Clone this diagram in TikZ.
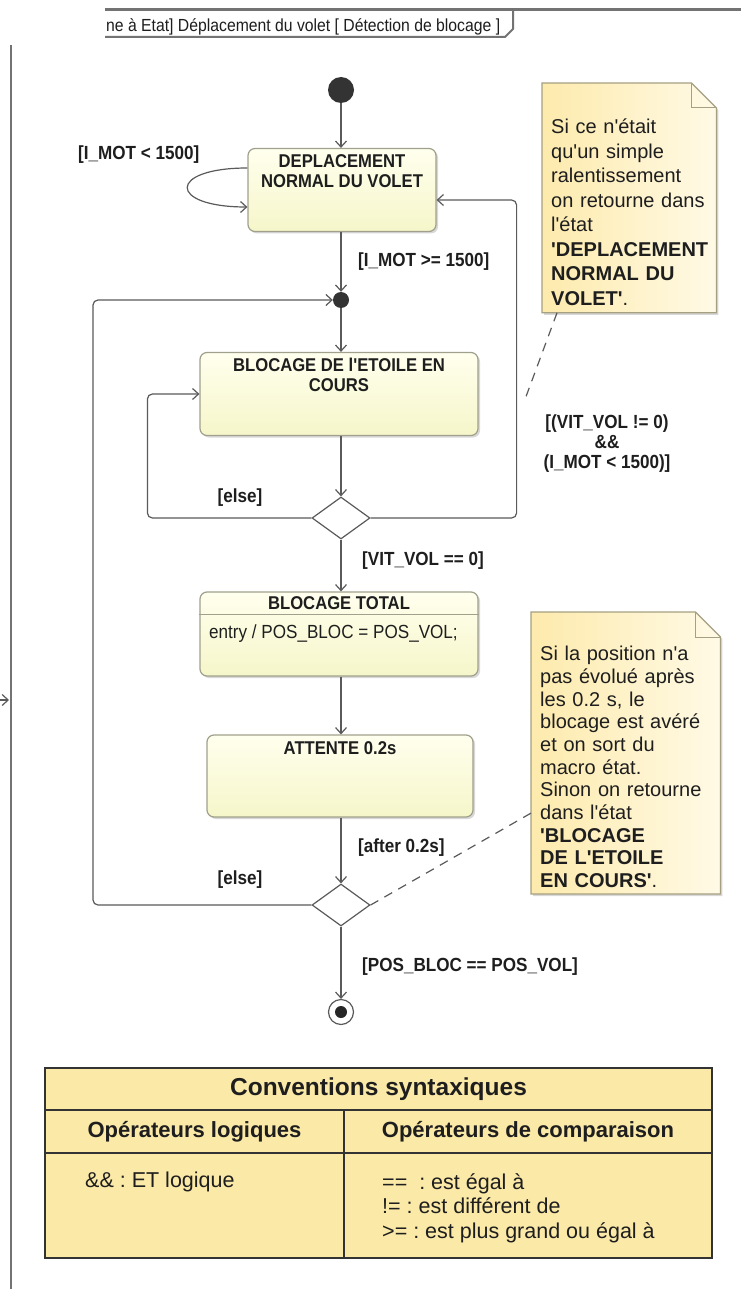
\documentclass[tikz,border=0pt]{standalone}
\usepackage{fontspec}
\setmainfont{Liberation Sans}[Ligatures=TeXOff]
\newfontfamily\narrowfont[FakeStretch=0.9, Ligatures=TeXOff]{Liberation Sans}
\usepackage{xcolor}
\usetikzlibrary{shapes.geometric, arrows.meta, positioning, calc, backgrounds, shadows}

\definecolor{stateedge}{RGB}{160,160,140}
\definecolor{statetop}{RGB}{255,255,238}
\definecolor{statebot}{RGB}{246,246,202}
\definecolor{noteleft}{RGB}{253,234,172}
\definecolor{noteright}{RGB}{255,250,230}
\definecolor{noteedge}{RGB}{165,160,130}
\definecolor{wire}{RGB}{90,90,90}
\definecolor{ink}{RGB}{30,30,30}
\definecolor{tablefill}{RGB}{251,233,168}

\frenchspacing

\begin{document}
\begin{tikzpicture}[
        x=1pt, y=-1pt,
        state/.style={
            rectangle,
            draw=stateedge,
            line width=1.2pt,
            top color=statetop,
            bottom color=statebot,
            rounded corners=7pt,
            minimum height=83pt,
            drop shadow={shadow xshift=2pt, shadow yshift=-2pt, opacity=0.3}
        },
        stname/.style={
            font=\narrowfont\bfseries\fontsize{18.5}{20}\selectfont,
            text=ink,
            align=center,
            inner sep=0pt
        },
        action/.style={
            font=\narrowfont\fontsize{19}{21}\selectfont,
            text=ink,
            inner sep=0pt
        },
        guard/.style={
            font=\narrowfont\bfseries\fontsize{19}{21}\selectfont,
            text=ink,
            align=center,
            inner sep=0pt
        },
        pseudo/.style={
            circle,
            fill=black!80,
            inner sep=0pt
        },
        choice/.style={
            diamond,
            draw=wire,
            line width=1.2pt,
            fill=white,
            minimum width=58pt,
            minimum height=42pt,
            inner sep=0pt
        },
        final/.style={
            circle,
            draw=wire,
            line width=1.2pt,
            fill=white,
            minimum size=25pt,
            path picture={\fill[black!85] (path picture bounding box.center) circle (6pt);}
        },
        trans/.style={
            draw=wire,
            line width=1.2pt,
            -{Straight Barb[length=6pt, width=11pt]}
        },
        notetext/.style={
            text=ink,
            align=left,
            inner xsep=9pt,
            inner ysep=0pt,
            anchor=north west
        },
        notebox/.style={
            draw=noteedge,
            line width=1.2pt,
            left color=noteleft,
            right color=noteright,
            drop shadow={shadow xshift=2pt, shadow yshift=-2pt, opacity=0.3}
        },
        anchorline/.style={
            draw=wire,
            line width=1.2pt,
            dash pattern=on 9pt off 7pt
        },
        cell/.style={
            rectangle,
            draw=black!80,
            line width=2.5pt,
            fill=tablefill,
            anchor=north west,
            inner sep=0pt,
            outer sep=0pt,
            text=ink
        },
        frame/.style={
            draw=black!55,
            line width=2pt
        }
    ]
        \useasboundingbox (0,0) rectangle (741,1289);

        % Frame
        \draw[frame, line width=3pt] (105,10) -- (741,10);
        \draw[frame] (105,37) -- (505,37) -- (513,29) -- (513,10);
        \draw[frame] (11,45) -- (11,1289);
        \node[action, font=\narrowfont\fontsize{17.5}{19}\selectfont, anchor=west] (titlebar) at (106,27) {ne à Etat] Déplacement du volet [ Détection de blocage ]};
        \coordinate (dehors) at (-30,700);
        \coordinate (entree) at (9,700);
        \draw[trans] (dehors) -- (entree);

        % Nodes
        \node[pseudo, minimum size=26pt] (init) at (341,90) {};
        \node[state, minimum width=188pt] (depl) at (342,190) {};
        \node[stname, below=6pt of depl.north] (depltxt) {DEPLACEMENT\\NORMAL DU VOLET};
        \node[pseudo, minimum size=16pt] (jn) at (341,300) {};
        \node[state, minimum width=278pt] (bloc) at (339,394) {};
        \node[stname, below=6pt of bloc.north] (bloctxt) {BLOCAGE DE l'ETOILE EN\\COURS};
        \node[choice] (choix1) at (341,518) {};
        \node[state, minimum width=278pt, minimum height=84pt] (total) at (339,634) {};
        \node[stname, below=5pt of total.north] (totaltxt) {BLOCAGE TOTAL};
        \draw[draw=stateedge, line width=1pt] ([yshift=-23pt]total.north west) -- ([yshift=-23pt]total.north east);
        \node[action, anchor=west] (entry) at (209,634) {entry / POS\_BLOC = POS\_VOL;};
        \node[state, minimum width=266pt, minimum height=82pt] (attente) at (340,776) {};
        \node[stname, below=7pt of attente.north] (attentetxt) {ATTENTE 0.2s};
        \node[choice] (choix2) at (341,905) {};
        \node[final] (fin) at (341,1012) {};

        % Edges
        \draw[trans] (init) -- (init |- depl.north);
        \draw[trans] ([yshift=22pt]depl.west) .. controls +(-80pt,0pt) and +(-80pt,0pt) .. ([yshift=-17pt]depl.west);
        \draw[trans] (jn |- depl.south) -- (jn);
        \draw[trans] (jn) -- (jn |- bloc.north);
        \draw[trans] (choix1 |- bloc.south) -- (choix1);
        \draw[trans, rounded corners=5pt] (choix1.west) -| ([xshift=-52pt]bloc.west) -- (bloc.west);
        \draw[trans, rounded corners=5pt] (choix1.east) -| ([xshift=80pt, yshift=-10pt]depl.east) -- ([yshift=-10pt]depl.east);
        \draw[trans] (choix1) -- (choix1 |- total.north);
        \draw[trans] (choix1 |- total.south) -- (choix1 |- attente.north);
        \draw[trans] (choix2 |- attente.south) -- (choix2);
        \draw[trans, rounded corners=5pt] (choix2.west) -| ([xshift=-248pt]jn.center) -- (jn);
        \draw[trans] (choix2) -- (fin);

        % Guards
        \node[guard, anchor=west] (gbas) at (78,155) {[I\_MOT < 1500]};
        \node[guard, anchor=west] (ghaut) at (358,262) {[I\_MOT >= 1500]};
        \node[guard] (gsinon1) at (240,498) {[else]};
        \node[guard, font=\narrowfont\bfseries\fontsize{19}{20}\selectfont] (gvit) at (607,444) {[(VIT\_VOL != 0)\\\&\&\\(I\_MOT < 1500)]};
        \node[guard, anchor=west] (gstop) at (362,561) {[VIT\_VOL == 0]};
        \node[guard, anchor=west] (gapres) at (358,848) {[after 0.2s]};
        \node[guard] (gsinon2) at (240,880) {[else]};
        \node[guard, anchor=west] (gpos) at (362,967) {[POS\_BLOC == POS\_VOL]};

        % Annotations
        \node[notetext, text width=156pt, font=\fontsize{20}{24.5}\selectfont] (note1) at (542,119) {Si ce n'était\\qu'un simple\\ralentissement\\on retourne dans\\l'état\\\textbf{'DEPLACEMENT}\\\textbf{NORMAL DU}\\\textbf{VOLET'}.};
        \node[notetext, text width=171pt, font=\fontsize{20}{22.7}\selectfont] (note2) at (531,646) {Si la position n'a\\pas évolué après\\les 0.2 s, le\\blocage est avéré\\et on sort du\\macro état.\\Sinon on retourne\\dans l'état\\\textbf{'BLOCAGE}\\\textbf{DE L'ETOILE}\\\textbf{EN COURS'}.};
        \coordinate (retour) at (524,402);
        \draw[anchorline] ([xshift=15pt, yshift=-7pt]note1.south west) -- (retour);
        \draw[anchorline] ([yshift=75pt]note2.south west) -- (choix2.east);

        % Table
        \node[cell, minimum width=667pt, minimum height=42pt, font=\bfseries\fontsize{24.5}{27}\selectfont] (titre) at (45,1068) {Conventions syntaxiques};
        \node[cell, minimum width=299pt, minimum height=43pt, font=\bfseries\fontsize{22}{25}\selectfont] (hlog) at (titre.south west) {Opérateurs logiques};
        \node[cell, minimum width=368pt, minimum height=43pt, font=\bfseries\fontsize{22}{25}\selectfont] (hcomp) at (hlog.north east) {Opérateurs de comparaison};
        \node[cell, minimum width=299pt, minimum height=105pt] (blog) at (hlog.south west) {};
        \node[cell, minimum width=368pt, minimum height=105pt] (bcomp) at (blog.north east) {};
        \node[anchor=west, inner sep=0pt, text=ink, font=\fontsize{21.5}{24.5}\selectfont] (etlog) at ([xshift=40pt, yshift=-29pt]blog.north west) {\&\& : ET logique};
        \node[anchor=north west, align=left, inner sep=0pt, text=ink, font=\fontsize{21.5}{24.5}\selectfont] (comptxt) at ([xshift=38pt, yshift=-20pt]bcomp.north west) {== \ : est égal à\\!= : est différent de\\>= : est plus grand ou égal à};

        % Background
        \begin{scope}[on background layer]
            \fill[white] (0,0) rectangle (741,1289);
            \draw[notebox] ([yshift=36pt]note1.north west) -- ([xshift=-25pt, yshift=36pt]note1.north east) -- ([yshift=11pt]note1.north east) -- ([yshift=-7pt]note1.south east) -- ([yshift=-7pt]note1.south west) -- cycle;
            \draw[draw=noteedge, line width=1pt] ([xshift=-25pt, yshift=36pt]note1.north east) |- ([yshift=11pt]note1.north east);
            \draw[notebox] ([yshift=34pt]note2.north west) -- ([xshift=-25pt, yshift=34pt]note2.north east) -- ([yshift=9pt]note2.north east) -- ([yshift=-6pt]note2.south east) -- ([yshift=-6pt]note2.south west) -- cycle;
            \draw[draw=noteedge, line width=1pt] ([xshift=-25pt, yshift=34pt]note2.north east) |- ([yshift=9pt]note2.north east);
        \end{scope}

    \end{tikzpicture}
\end{document}
